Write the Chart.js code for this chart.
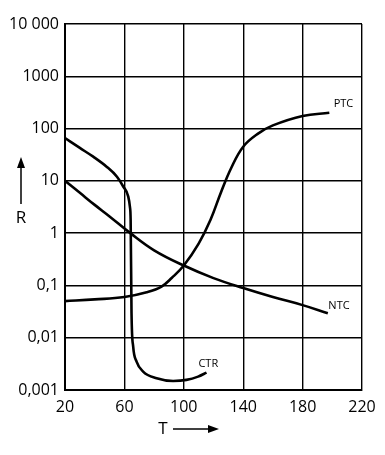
<!DOCTYPE html>
<html>
<head>
<meta charset="utf-8">
<script src="https://cdn.jsdelivr.net/npm/chart.js@4"></script>
<style>
  html, body { margin: 0; padding: 0; background: #fff; }
  #wrap { width: 385px; height: 455px; }
</style>
</head>
<body>
<div id="wrap"><canvas id="myChart" width="385" height="455"></canvas></div>
<script>
// temperatures (T) and resistances (R)
var ptcT = [20, 40, 60, 75, 85, 92, 100, 110, 118, 125, 132, 140, 150, 160, 180, 198];
var ptcR = [0.05, 0.054, 0.06, 0.074, 0.095, 0.14, 0.24, 0.63, 1.8, 6, 17.8, 45, 80, 115, 174, 200];

var ntcT = [20, 30, 40, 50, 64, 80, 100, 120, 140, 160, 180, 197];
var ntcR = [10, 5.9, 3.47, 2.09, 1.0, 0.47, 0.24, 0.138, 0.089, 0.06, 0.042, 0.0295];

var ctrT = [20, 30, 39, 48, 55, 59.2, 62.6, 63.7, 64.2, 64.8, 65.9, 68.2, 72.6, 81.7, 92.8, 101.8, 109.6, 115.3];
var ctrR = [66, 42.6, 29, 18.7, 12, 7.8, 5, 3.2, 1.8, 0.0295, 0.0068, 0.0035, 0.00225, 0.00168, 0.00149, 0.00156, 0.0018, 0.00215];

// axis ticks
var xTicks = [20, 60, 100, 140, 180, 220];
var yTicks = [0.001, 0.01, 0.1, 1, 10, 100, 1000, 10000];
var yTickLabels = ['0,001', '0,01', '0,1', '1', '10', '100', '1000', '10 000'];

// curve names and where they sit (T, R)
var curveNames = ['PTC', 'NTC', 'CTR'];
var nameT = [207.5, 204.5, 116.5];
var nameR = [295, 0.04, 0.0031];

function toPoints(xs, ys) {
    return xs.map(function(x, i) { return { x: x, y: ys[i] }; });
}

function lineSet(xs, ys, mono) {
    var set = {
        data: toPoints(xs, ys),
        borderColor: '#000',
        borderWidth: 2.6,
        pointRadius: 0,
        fill: false,
        tension: 0.4
    };
    if (mono) set.cubicInterpolationMode = 'monotone';
    return set;
}

// draws curve names and the R / T arrows
var extras = {
    id: 'extras',
    afterDraw: function(chart) {
        var ctx = chart.ctx;
        var xs = chart.scales.x, ys = chart.scales.y;
        var area = chart.chartArea;
        ctx.save();
        ctx.fillStyle = '#000';
        ctx.strokeStyle = '#000';
        ctx.font = '11px "Open Sans"';
        ctx.textAlign = 'center';
        ctx.textBaseline = 'middle';
        for (var i = 0; i < curveNames.length; i++) {
            ctx.fillText(curveNames[i], xs.getPixelForValue(nameT[i]), ys.getPixelForValue(nameR[i]));
        }

        // R with arrow up
        ctx.font = '17px "Open Sans"';
        var rx = 21;
        ctx.fillText('R', rx, 218);
        ctx.lineWidth = 1.5;
        ctx.beginPath();
        ctx.moveTo(rx, 204);
        ctx.lineTo(rx, 166);
        ctx.stroke();
        ctx.beginPath();
        ctx.moveTo(rx, 157);
        ctx.lineTo(rx - 4, 168);
        ctx.lineTo(rx + 4, 168);
        ctx.closePath();
        ctx.fill();

        // T with arrow right
        var ty = area.bottom + 39;
        ctx.fillText('T', 163, ty);
        ctx.beginPath();
        ctx.moveTo(173, ty);
        ctx.lineTo(210, ty);
        ctx.stroke();
        ctx.beginPath();
        ctx.moveTo(219, ty);
        ctx.lineTo(208, ty - 4);
        ctx.lineTo(208, ty + 4);
        ctx.closePath();
        ctx.fill();
        ctx.restore();
    }
};

var ctx = document.getElementById('myChart').getContext('2d');
var myChart = new Chart(ctx, {
    type: 'line',
    data: {
        datasets: [lineSet(ptcT, ptcR, false), lineSet(ntcT, ntcR, false), lineSet(ctrT, ctrR, true)]
    },
    options: {
        responsive: false,
        animation: false,
        layout: { padding: { top: 24, right: 23, left: 0, bottom: 0 } },
        plugins: { legend: { display: false }, tooltip: { enabled: false } },
        scales: {
            x: {
                type: 'linear',
                min: 20,
                max: 220,
                afterBuildTicks: function(scale) {
                    scale.ticks = xTicks.map(function(v) { return { value: v }; });
                },
                afterFit: function(scale) { scale.height = 65; },
                grid: { color: '#000', lineWidth: 1.4, drawTicks: false },
                border: { color: '#000', width: 2 },
                ticks: {
                    color: '#000',
                    padding: 8,
                    maxRotation: 0,
                    font: { family: '"Open Sans"', size: 16 }
                }
            },
            y: {
                type: 'logarithmic',
                min: 0.001,
                max: 10000,
                afterBuildTicks: function(scale) {
                    scale.ticks = yTicks.map(function(v) { return { value: v }; });
                },
                afterFit: function(scale) { scale.width = 65; },
                grid: { color: '#000', lineWidth: 1.4, drawTicks: false },
                border: { color: '#000', width: 2 },
                ticks: {
                    color: '#000',
                    padding: 6,
                    font: { family: '"Open Sans"', size: 16 },
                    callback: function(value) {
                        var i = yTicks.indexOf(value);
                        return i >= 0 ? yTickLabels[i] : '';
                    }
                }
            }
        }
    },
    plugins: [extras]
});
</script>
</body>
</html>
